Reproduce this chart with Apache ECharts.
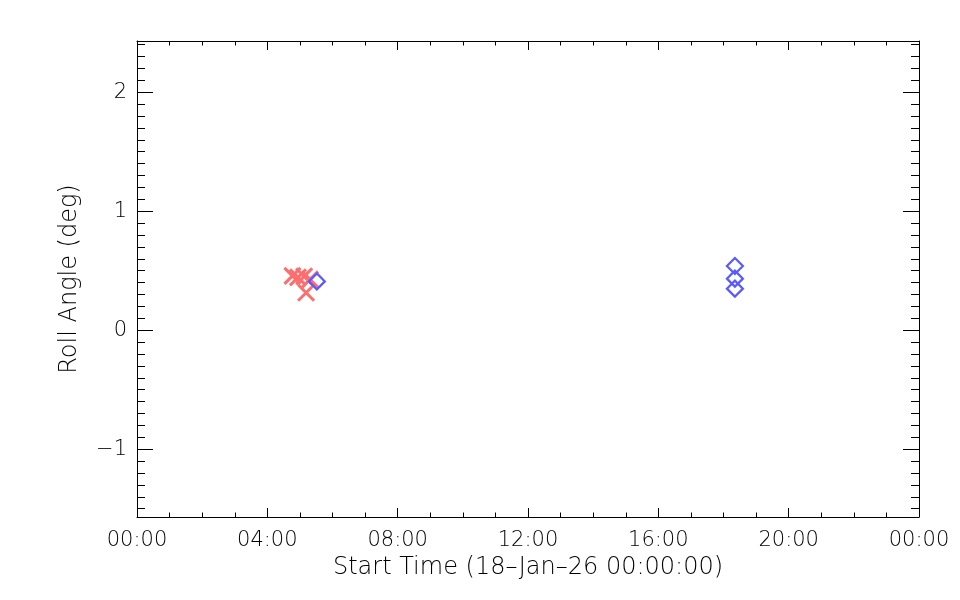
<!DOCTYPE html>
<html>
<head>
<meta charset="utf-8">
<script src="https://cdn.jsdelivr.net/npm/echarts@6/dist/echarts.min.js"></script>
<style>html,body{margin:0;padding:0;background:#fff}#c{width:960px;height:600px}</style>
</head>
<body>
<div id="c"></div>
<script>
// Data (time in hours since 18-Jan-26 00:00:00, roll angle in degrees)
var redTimes = [4.77, 4.94, 5.13, 5.19, 5.31];
var redRoll = [0.456, 0.444, 0.452, 0.314, 0.427];
var blueTimes = [5.52, 18.35, 18.35, 18.35];
var blueRoll = [0.41, 0.539, 0.433, 0.349];
var xTickLabels = ['00:00', '04:00', '08:00', '12:00', '16:00', '20:00', '00:00'];

var font = 'DejaVu Sans';
var chart = echarts.init(document.getElementById('c'), null, {renderer: 'canvas'});
function pairs(xs, ys) { return xs.map(function (x, i) { return [x, ys[i]]; }); }
var lineStyle = {color: '#000', width: 1};
var xCommon = {
  type: 'value', min: 0, max: 24, interval: 4,
  axisLine: {show: true, onZero: false, lineStyle: lineStyle},
  axisTick: {show: true, inside: true, length: 9, lineStyle: lineStyle},
  minorTick: {show: true, splitNumber: 4, length: 4.5, lineStyle: lineStyle},
  splitLine: {show: false}
};
var yCommon = {
  type: 'value', min: -1.57, max: 2.43, splitNumber: 4,
  axisLine: {show: true, onZero: false, lineStyle: lineStyle},
  axisTick: {show: true, inside: true, length: 16, lineStyle: lineStyle},
  minorTick: {show: true, splitNumber: 10, length: 8, lineStyle: lineStyle},
  splitLine: {show: false}
};
chart.setOption({
  animation: false,
  backgroundColor: '#fff',
  grid: {left: 137, top: 41, right: 41, bottom: 83, containLabel: false},
  xAxis: [
    Object.assign({}, xCommon, {
      position: 'bottom',
      name: 'Start Time (18\u2013Jan\u201326 00:00:00)',
      nameLocation: 'middle', nameGap: 37,
      nameTextStyle: {fontFamily: font, fontSize: 24, fontWeight: 200, color: '#000'},
      axisLabel: {show: true, margin: 13, fontFamily: font, fontSize: 21, fontWeight: 200, color: '#000',
        formatter: function (v) { return xTickLabels[Math.round(v / 4)]; }}
    }),
    Object.assign({}, xCommon, {position: 'top', axisLabel: {show: false}})
  ],
  yAxis: [
    Object.assign({}, yCommon, {
      position: 'left',
      name: 'Roll Angle (deg)',
      nameLocation: 'middle', nameGap: 55,
      nameTextStyle: {fontFamily: font, fontSize: 24, fontWeight: 200, color: '#000'},
      axisLabel: {show: true, margin: 10, showMinLabel: false, showMaxLabel: false,
        fontFamily: font, fontSize: 21, fontWeight: 200, color: '#000',
        formatter: function (v) { return Math.abs(v - Math.round(v)) < 1e-6 ? String(Math.round(v)).replace('-', '\u2212') : ''; }}
    }),
    Object.assign({}, yCommon, {position: 'right', axisLabel: {show: false}})
  ],
  series: [
    {
      type: 'scatter', xAxisIndex: 0, yAxisIndex: 0,
      data: pairs(redTimes, redRoll),
      symbol: 'path://M0,0L10,10M10,0L0,10',
      symbolSize: 16,
      itemStyle: {color: 'rgba(0,0,0,0)', borderColor: '#ff6e6e', borderWidth: 3, opacity: 1}
    },
    {
      type: 'scatter', xAxisIndex: 0, yAxisIndex: 0,
      data: pairs(blueTimes, blueRoll),
      symbol: 'diamond',
      symbolSize: [16, 16],
      itemStyle: {color: 'rgba(0,0,0,0)', borderColor: '#5a5aff', borderWidth: 2.2, opacity: 1}
    }
  ]
});
</script>
</body>
</html>
